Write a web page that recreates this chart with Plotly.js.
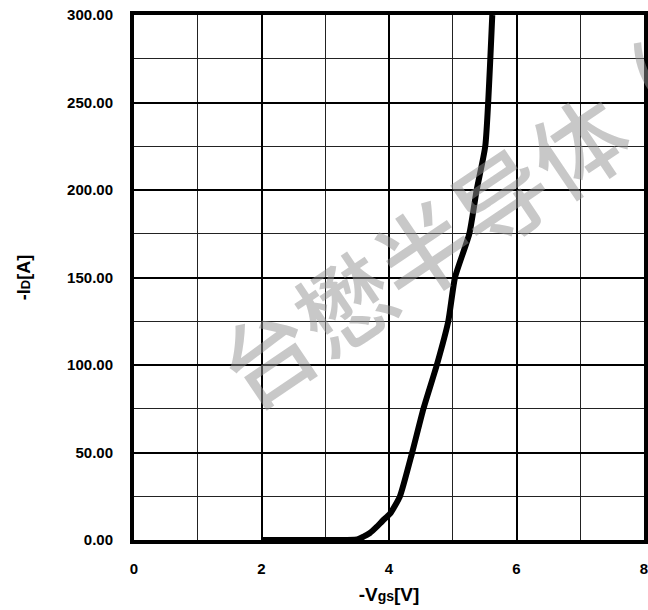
<!DOCTYPE html>
<html>
<head>
<meta charset="utf-8">
<script src="https://cdn.plot.ly/plotly-3.0.1.min.js"></script>
<style>html,body{margin:0;padding:0;background:#fff;}#chart{width:648px;height:610px;}</style>
</head>
<body>
<div id="chart"></div>
<script>
// -Vgs [V]
const vgs = [2.0, 3.0, 3.5, 3.6, 3.7, 3.81, 3.9, 4.02, 4.17, 4.36, 4.54, 4.75, 4.93, 5.035, 5.26, 5.375, 5.51, 5.62];
// -Id [A]
const idA = [0, 0, 0.3, 1.9, 4, 7.6, 11, 15.2, 24.8, 49.5, 75, 100, 125, 150, 175, 200, 225, 300];
const yTickVals = [0, 50, 100, 150, 200, 250, 300];
const xTickVals = [0, 2, 4, 6, 8];
const watermark = "台懋半导体";
const watermarkTail = "(";

const trace = {
  x: vgs, y: idA, type: 'scatter', mode: 'lines',
  line: {color: '#000', width: 6, shape: 'spline', smoothing: 0.5},
  hoverinfo: 'skip', cliponaxis: true
};
const tickFont = {family: 'Liberation Sans, Arial, sans-serif', size: 15, color: '#000', weight: 'bold'};
const wmFont = {family: 'Noto Sans CJK SC', size: 94, color: 'rgba(145,145,145,0.5)', weight: 500};
const layout = {
  width: 648, height: 610,
  margin: {l: 134, r: 4, t: 15, b: 70},
  paper_bgcolor: '#fff', plot_bgcolor: '#fff',
  showlegend: false,
  xaxis: {
    range: [0, 8], tickvals: xTickVals, ticktext: xTickVals.map(String),
    showgrid: true, gridcolor: '#000', gridwidth: 2,
    minor: {dtick: 1, showgrid: true, gridcolor: '#222', gridwidth: 1.3, ticks: ''},
    showline: true, linecolor: '#000', linewidth: 4, mirror: true,
    ticks: '', ticklabelstandoff: 12, ticklabeloverflow: 'allow', tickfont: tickFont, zeroline: false, fixedrange: true,
    title: {text: '-V<span style="font-size:14px">gs</span>[V]', font: {family: 'Liberation Sans, Arial, sans-serif', size: 19, color: '#000', weight: 'bold'}, standoff: 13}
  },
  yaxis: {
    range: [0, 300], tickvals: yTickVals, ticktext: yTickVals.map(v => v.toFixed(2)),
    showgrid: true, gridcolor: '#000', gridwidth: 2,
    minor: {dtick: 25, showgrid: true, gridcolor: '#222', gridwidth: 1.3, ticks: ''},
    showline: true, linecolor: '#000', linewidth: 4, mirror: true,
    ticks: '', ticklabelstandoff: 14, tickfont: tickFont, zeroline: false, fixedrange: true,
    title: {text: '-I<span style="font-size:13px">D</span>[A]', font: {family: 'Liberation Sans, Arial, sans-serif', size: 18, color: '#000', weight: 'bold'}, standoff: 33}
  },
  annotations: [{
    text: watermark, xref: 'paper', yref: 'paper', x: 0.562, y: 0.556,
    xanchor: 'center', yanchor: 'middle', showarrow: false, textangle: -34,
    font: wmFont
  }, {
    text: watermarkTail, xref: 'paper', yref: 'paper', x: 1.011, y: 0.882,
    xanchor: 'center', yanchor: 'middle', showarrow: false, textangle: -34,
    font: wmFont
  }]
};
Plotly.newPlot('chart', [trace], layout, {staticPlot: true, displayModeBar: false});
</script>
</body>
</html>
